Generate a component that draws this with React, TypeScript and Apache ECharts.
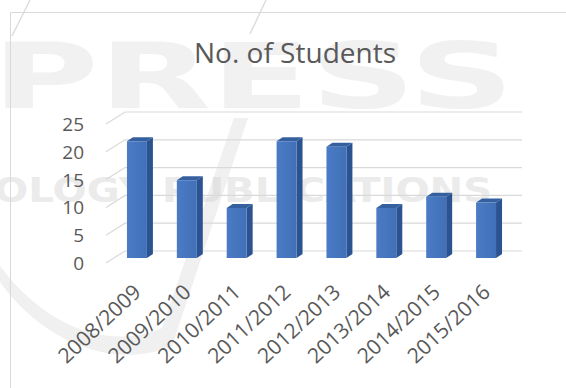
import React, { useEffect, useRef } from "react";
import * as echarts from "echarts";

const categories = [
  "2008/2009",
  "2009/2010",
  "2010/2011",
  "2011/2012",
  "2012/2013",
  "2013/2014",
  "2014/2015",
  "2015/2016",
];
const students = [21, 14, 9, 21, 20, 9, 11, 10];
const yTicks = [0, 5, 10, 15, 20, 25];
const chartTitle = "No. of Students";

const FONT = '"Open Sans", "Noto Sans", sans-serif';
const TEXT_COLOR = "#595959";
const GRID_COLOR = "#d9d9d9";
const WALL_DX = 19;
const WALL_DY = -12;
const BAR_DX = 6;
const BAR_DY = -4;

echarts.graphic.registerShape(
  "swoosh",
  echarts.graphic.extendPath(
    "M0 282 C 40 338 110 372 172 346 L 248 118 L 234 118 L 162 328 C 112 350 48 330 0 266 Z",
    {}
  )
);

export default function App() {
  const ref = useRef<HTMLDivElement>(null);
  useEffect(() => {
    document.body.style.margin = "0";
    if (!ref.current) return;
    const chart = echarts.init(ref.current, null, { renderer: "svg" });
    const option: any = {
      animation: false,
      backgroundColor: "#ffffff",
      title: {
        text: chartTitle,
        left: 290,
        top: 33,
        textAlign: "center",
        textStyle: {
          fontFamily: FONT,
          fontSize: 28,
          fontWeight: "normal",
          color: TEXT_COLOR,
        },
      },
      graphic: [
        {
          type: "text",
          z: -100,
          silent: true,
          x: -8,
          y: 32,
          scaleX: 1.62,
          style: {
            text: "PRESS",
            font: 'bold 90px "DejaVu Sans"',
            fill: "#f1f1f1",
          },
        },
        {
          type: "text",
          z: -100,
          silent: true,
          x: -6,
          y: 174,
          scaleX: 1.22,
          style: {
            text: "OLOGY PUBLICATIONS",
            font: 'bold 33px "DejaVu Sans"',
            fill: "#ebebeb",
          },
        },
        {
          type: "swoosh",
          z: -99,
          silent: true,
          x: 0,
          y: 0,
          style: { fill: "rgba(205,205,205,0.3)" },
        },
        {
          type: "line",
          z: -99,
          silent: true,
          shape: { x1: 30, y1: 0, x2: 12, y2: 36 },
          style: { stroke: "#dddddd", lineWidth: 1.5 },
        },
        {
          type: "line",
          z: -99,
          silent: true,
          shape: { x1: 266, y1: 0, x2: 250, y2: 34 },
          style: { stroke: "#dddddd", lineWidth: 1.5 },
        },
        {
          type: "rect",
          z: -50,
          silent: true,
          shape: { x: 10.5, y: 12.5, width: 620, height: 420 },
          style: { fill: "none", stroke: GRID_COLOR, lineWidth: 1 },
        },
      ],
      grid: [
        { left: 112, right: 55, top: 119, bottom: 130 },
        { left: 106, right: 63, top: 124, bottom: 125 },
      ],
      xAxis: [
        {
          type: "category",
          gridIndex: 0,
          data: categories,
          axisLine: { show: false },
          axisTick: { show: false },
          splitLine: { show: false },
          axisLabel: {
            interval: 0,
            rotate: 43,
            margin: 30,
            fontFamily: FONT,
            fontSize: 21,
            color: TEXT_COLOR,
          },
        },
        {
          type: "value",
          gridIndex: 1,
          min: 0,
          max: 1,
          show: false,
        },
      ],
      yAxis: [
        {
          type: "value",
          gridIndex: 0,
          min: 0,
          max: 25,
          interval: 5,
          show: false,
        },
        {
          type: "value",
          gridIndex: 1,
          min: 0,
          max: 25,
          interval: 5,
          axisLine: { show: false },
          axisTick: { show: false },
          splitLine: { show: false },
          axisLabel: {
            margin: 22,
            fontFamily: FONT,
            fontSize: 19,
            color: TEXT_COLOR,
          },
        },
      ],
      series: [
        {
          type: "custom",
          xAxisIndex: 1,
          yAxisIndex: 1,
          z: 1,
          silent: true,
          data: yTicks.map((v) => [0, v]),
          renderItem: (params: any, api: any) => {
            const v = api.value(1);
            const p0 = api.coord([0, v]);
            const p1 = api.coord([1, v]);
            return {
              type: "polyline",
              shape: {
                points: [
                  [p0[0], p0[1]],
                  [p0[0] + WALL_DX, p0[1] + WALL_DY],
                  [p1[0] + WALL_DX, p1[1] + WALL_DY],
                ],
              },
              style: { stroke: GRID_COLOR, lineWidth: 1.2, fill: "none" },
            };
          },
        },
        {
          type: "custom",
          xAxisIndex: 0,
          yAxisIndex: 0,
          z: 5,
          data: students.map((v, i) => [i, v]),
          renderItem: (params: any, api: any) => {
            const i = api.value(0);
            const v = api.value(1);
            const top = api.coord([i, v]);
            const base = api.coord([i, 0]);
            const band = api.size([1, 0])[0];
            const w = band * 0.4;
            const x0 = top[0] - w / 2;
            const x1 = x0 + w;
            const yt = top[1];
            const yb = base[1];
            return {
              type: "group",
              children: [
                {
                  type: "polygon",
                  shape: {
                    points: [
                      [x1, yt],
                      [x1 + BAR_DX, yt + BAR_DY],
                      [x1 + BAR_DX, yb + BAR_DY],
                      [x1, yb],
                    ],
                  },
                  style: { fill: "#2b5291" },
                },
                {
                  type: "polygon",
                  shape: {
                    points: [
                      [x0, yt],
                      [x0 + BAR_DX, yt + BAR_DY],
                      [x1 + BAR_DX, yt + BAR_DY],
                      [x1, yt],
                    ],
                  },
                  style: { fill: "#34609f" },
                },
                {
                  type: "rect",
                  shape: { x: x0, y: yt, width: w, height: yb - yt },
                  style: {
                    fill: new echarts.graphic.LinearGradient(0, 0, 1, 0, [
                      { offset: 0, color: "#4a7bc4" },
                      { offset: 1, color: "#4170b8" },
                    ]),
                  },
                },
              ],
            };
          },
        },
      ],
    };
    chart.setOption(option);
    return () => chart.dispose();
  }, []);
  return <div ref={ref} style={{ width: 566, height: 388 }} />;
}
